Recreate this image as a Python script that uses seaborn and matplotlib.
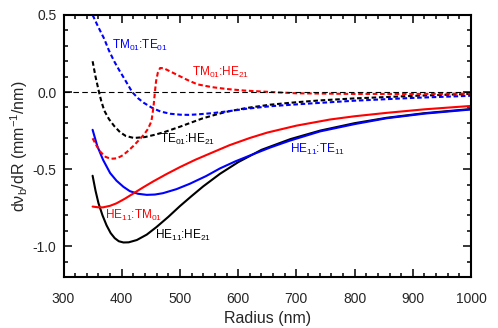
import matplotlib
matplotlib.use("Agg")
import matplotlib.pyplot as plt
import seaborn as sns
import pandas as pd

# ---- data ----
r_he11_he21 = [350, 355, 360, 367, 374, 381, 388, 395, 403, 412, 426, 443, 460, 480, 500, 520, 540, 569, 600, 640, 690, 741, 800, 855, 920, 1000]
v_he11_he21 = [-0.543, -0.64, -0.72, -0.80, -0.865, -0.915, -0.948, -0.968, -0.976, -0.975, -0.96, -0.925, -0.875, -0.81, -0.74, -0.675, -0.612, -0.53, -0.455, -0.375, -0.305, -0.25, -0.202, -0.167, -0.137, -0.11]

r_he11_te11 = [350, 358, 368, 380, 391, 403, 414, 428, 443, 457, 471, 494, 517, 545, 569, 595, 620, 655, 689, 741, 800, 855, 920, 1000]
v_he11_te11 = [-0.245, -0.35, -0.44, -0.525, -0.575, -0.615, -0.643, -0.66, -0.667, -0.665, -0.656, -0.63, -0.595, -0.545, -0.495, -0.45, -0.412, -0.36, -0.315, -0.255, -0.208, -0.17, -0.14, -0.113]

r_he11_tm01 = [350, 360, 368, 380, 391, 405, 420, 437, 454, 477, 500, 526, 552, 585, 620, 650, 700, 758, 800, 855, 920, 1000]
v_he11_tm01 = [-0.743, -0.748, -0.748, -0.738, -0.722, -0.693, -0.658, -0.618, -0.58, -0.532, -0.487, -0.44, -0.398, -0.345, -0.298, -0.263, -0.218, -0.178, -0.157, -0.135, -0.112, -0.09]

r_te01_he21 = [350, 355, 361, 365, 370, 378, 387, 397, 407, 421, 440, 457, 473, 500, 520, 538, 560, 580, 615, 655, 700, 741, 800, 900, 1000]
v_te01_he21 = [0.20, 0.10, 0.0, -0.06, -0.12, -0.175, -0.22, -0.26, -0.285, -0.298, -0.292, -0.277, -0.26, -0.225, -0.197, -0.172, -0.148, -0.128, -0.103, -0.082, -0.066, -0.054, -0.041, -0.025, -0.012]

r_tm01_te01 = [350, 360, 370, 378, 387, 396, 404, 418, 428, 438, 452, 467, 484, 501, 515, 530, 555, 580, 615, 655, 700, 741, 800, 900, 1000]
v_tm01_te01 = [0.50, 0.42, 0.345, 0.27, 0.20, 0.14, 0.09, 0.0, -0.04, -0.07, -0.102, -0.127, -0.141, -0.147, -0.148, -0.145, -0.137, -0.126, -0.108, -0.092, -0.08, -0.07, -0.056, -0.038, -0.024]

r_tm01_he21 = [350, 357, 364, 372, 381, 392, 402, 410, 420, 430, 438, 445, 451, 453, 455, 457, 459, 462, 466, 472, 480, 495, 512, 530, 555, 580, 610, 638, 700, 800, 900, 1000]
v_tm01_he21 = [-0.30, -0.35, -0.39, -0.42, -0.433, -0.43, -0.41, -0.385, -0.35, -0.31, -0.277, -0.24, -0.19, -0.14, -0.08, 0.0, 0.07, 0.125, 0.156, 0.155, 0.14, 0.112, 0.08, 0.05, 0.032, 0.02, 0.01, 0.004, -0.008, -0.012, -0.012, -0.01]

x_ticks = [300, 400, 500, 600, 700, 800, 900, 1000]
y_ticks = [-1.0, -0.5, 0.0, 0.5]

# ---- style ----
sns.set_style("ticks")
plt.rcParams["font.family"] = ["Liberation Sans", "DejaVu Sans"]
plt.rcParams["mathtext.fontset"] = "custom"
plt.rcParams["mathtext.rm"] = "Liberation Sans"
plt.rcParams["mathtext.it"] = "Liberation Sans"
plt.rcParams["mathtext.default"] = "regular"

fig = plt.figure(figsize=(4.98, 3.28), dpi=100)
ax = fig.add_axes([63.5 / 498, 1 - 277 / 328, (471 - 63.5) / 498, (277 - 15) / 328])

dash = (0, (2.2, 1.3))
series = [
    (r_he11_he21, v_he11_he21, "black", "-"),
    (r_he11_te11, v_he11_te11, "#0000FF", "-"),
    (r_he11_tm01, v_he11_tm01, "#FF0000", "-"),
    (r_te01_he21, v_te01_he21, "black", dash),
    (r_tm01_te01, v_tm01_te01, "#0000FF", dash),
    (r_tm01_he21, v_tm01_he21, "#FF0000", dash),
]
for r, v, c, ls in series:
    df = pd.DataFrame({"R": r, "v": v})
    sns.lineplot(data=df, x="R", y="v", color=c, linestyle=ls, linewidth=1.5, ax=ax, sort=False)

ax.axhline(0, color="black", linestyle=(0, (5, 3)), linewidth=0.8)

ax.set_xlim(300, 1000)
ax.set_ylim(-1.2, 0.5)
ax.set_xticks(x_ticks)
ax.set_yticks(y_ticks)
ax.set_xticklabels([str(t) for t in x_ticks])
ax.set_yticklabels(["%.1f" % t for t in y_ticks])
ax.set_xticks([t for t in range(300, 1001, 20) if t % 100], minor=True)
ax.set_yticks([-1.2, -1.1, -0.9, -0.8, -0.7, -0.6, -0.4, -0.3, -0.2, -0.1, 0.1, 0.2, 0.3, 0.4], minor=True)

ax.tick_params(which="both", direction="in", top=True, right=True, width=1.1, color="black")
ax.tick_params(which="major", length=6)
ax.tick_params(which="minor", length=3.2)
ax.tick_params(axis="x", which="major", pad=10.5, labelsize=10)
ax.tick_params(axis="y", which="major", pad=5, labelsize=10)
for s in ax.spines.values():
    s.set_linewidth(1.5)
    s.set_color("black")

ax.set_xlabel("Radius (nm)", fontsize=11.5, labelpad=4)
ax.set_ylabel("dν$_b$/dR (mm$^{-1}$/nm)", fontsize=11.5, labelpad=2)

fs = 8.5
ax.text(383, 0.30, "TM$_{01}$:TE$_{01}$", color="#0000FF", fontsize=fs, va="center")
ax.text(521, 0.125, "TM$_{01}$:HE$_{21}$", color="#FF0000", fontsize=fs, va="center")
ax.text(466, -0.31, "TE$_{01}$:HE$_{21}$", color="black", fontsize=fs, va="center")
ax.text(689, -0.375, "HE$_{11}$:TE$_{11}$", color="#0000FF", fontsize=fs, va="center")
ax.text(371, -0.80, "HE$_{11}$:TM$_{01}$", color="#FF0000", fontsize=fs, va="center")
ax.text(457, -0.93, "HE$_{11}$:HE$_{21}$", color="black", fontsize=fs, va="center")

fig.savefig("out.png", dpi=100)
